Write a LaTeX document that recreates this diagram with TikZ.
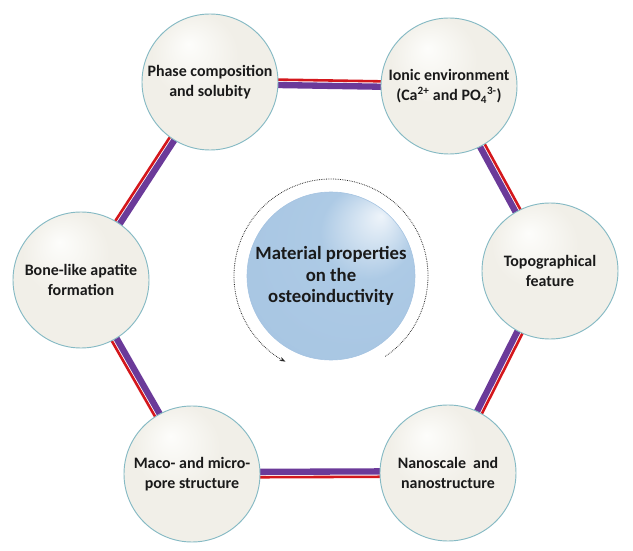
\documentclass[tikz,border=0pt]{standalone}
\usepackage{fontspec}
\setmainfont{Carlito}
\usetikzlibrary{calc,arrows.meta,backgrounds}

\definecolor{creamfill}{HTML}{F1EFE8}
\definecolor{creamedge}{HTML}{EAE7DE}
\definecolor{creamlight}{HTML}{FDFDFB}
\definecolor{rimteal}{HTML}{86BAC4}
\definecolor{corefill}{HTML}{ADCAE5}
\definecolor{coreedge}{HTML}{A4C3E1}
\definecolor{corelight}{HTML}{EEF4FA}
\definecolor{bandpurple}{HTML}{6B3A99}
\definecolor{threadred}{HTML}{D4171C}
\definecolor{labelgray}{HTML}{1A1A1A}

\pgfdeclareradialshading{bubbleshade}{\pgfpoint{-8bp}{14bp}}{%
  color(0bp)=(creamlight); color(16bp)=(creamfill); color(42bp)=(creamfill); color(52bp)=(creamedge)}
\pgfdeclareradialshading{coreshade}{\pgfpoint{15bp}{18bp}}{%
  color(0bp)=(corelight); color(14bp)=(corefill); color(50bp)=(coreedge)}

\tikzset{
  bubble/.style={circle, draw=rimteal, line width=0.8pt, shading=bubbleshade,
    minimum size=4.08cm, inner sep=0pt, align=center, text=labelgray,
    font=\fontsize{13.6}{17.5}\selectfont\bfseries},
  core/.style={circle, draw=coreedge, line width=0.5pt, shading=coreshade,
    minimum size=5.04cm, inner sep=0pt, align=center, text=labelgray,
    font=\fontsize{16}{18.5}\selectfont\bfseries},
  band/.style={draw=bandpurple, line width=5.4pt},
  thread/.style={draw=threadred, line width=2.2pt},
  orbit/.style={draw=black!85, line width=0.7pt, dash pattern=on 0.6pt off 0.9pt}
}

\begin{document}
\begin{tikzpicture}[x=0.03cm, y=0.03cm]
    \useasboundingbox (0,0) rectangle (633,551);

    \foreach \name/\x/\y/\txt in {
        phase/210/469/{Phase composition\\and solubity},
        ionic/449/465/{Ionic environment\\(Ca\textsuperscript{2+} and PO\textsubscript{4}\textsuperscript{3-})},
        topo/550/280/{Topographical\\feature},
        nano/448/78/{Nanoscale~ and\\nanostructure},
        maco/192/77/{Maco- and micro-\\pore structure},
        bone/81/271/{Bone-like apatite\\formation}} {
        \node[bubble] (\name) at (\x,\y) {\txt};
    }

    \node[core] (core) at (331,275) {Material properties\\on the\\osteoinductivity};

    \draw[orbit, -{Stealth[length=5pt, width=3.5pt]}] ($(core.center)+(-56:97)$)
        arc[start angle=-56, end angle=242, radius=97];

    \begin{scope}[on background layer]
        \foreach \a/\b in {phase/ionic, ionic/topo, topo/nano, nano/maco, maco/bone, bone/phase} {
            \draw[band] ($(\a.center)!1.6pt!-90:(\b.center)$) -- ($(\b.center)!1.6pt!90:(\a.center)$);
            \draw[thread] ($(\a.center)!3pt!90:(\b.center)$) -- ($(\b.center)!3pt!-90:(\a.center)$);
        }
    \end{scope}

\end{tikzpicture}
\end{document}
